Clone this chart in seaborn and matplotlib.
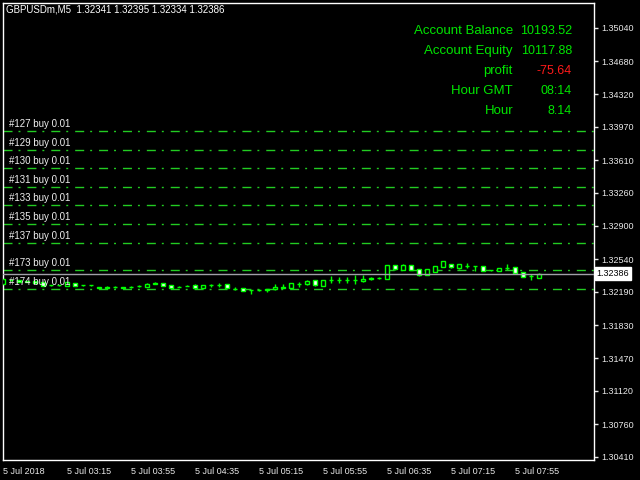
import matplotlib
matplotlib.use("Agg")
import matplotlib.pyplot as plt
import matplotlib.transforms as mtransforms
import pandas as pd
import seaborn as sns

# M5 candles, 5 Jul 2018 02:35 .. 08:10
opens = [1.32274, 1.32317, 1.32318, 1.32296, 1.32305, 1.32291, 1.32258, 1.32262, 1.32256, 1.32281,
         1.32258, 1.32262, 1.32240, 1.32236, 1.32245, 1.32240, 1.32238, 1.32250, 1.32245, 1.32279,
         1.32281, 1.32260, 1.32241, 1.32250, 1.32266, 1.32234, 1.32258, 1.32265, 1.32274, 1.32225,
         1.32230, 1.32207, 1.32205, 1.32214, 1.32216, 1.32238, 1.32234, 1.32276, 1.32270, 1.32317,
         1.32256, 1.32315, 1.32317, 1.32319, 1.32314, 1.32302, 1.32332, 1.32337, 1.32331, 1.32475,
         1.32425, 1.32475, 1.32432, 1.32374, 1.32407, 1.32461, 1.32490, 1.32443, 1.32468, 1.32468,
         1.32468, 1.32422, 1.32418, 1.32445, 1.32454, 1.32400, 1.32360, 1.32341]
highs = [1.32328, 1.32327, 1.32322, 1.32306, 1.32310, 1.32295, 1.32268, 1.32266, 1.32295, 1.32285,
         1.32268, 1.32266, 1.32245, 1.32254, 1.32252, 1.32245, 1.32250, 1.32260, 1.32282, 1.32292,
         1.32288, 1.32263, 1.32256, 1.32258, 1.32270, 1.32266, 1.32277, 1.32285, 1.32278, 1.32243,
         1.32234, 1.32214, 1.32222, 1.32220, 1.32274, 1.32274, 1.32288, 1.32299, 1.32320, 1.32320,
         1.32320, 1.32360, 1.32346, 1.32346, 1.32367, 1.32367, 1.32353, 1.32353, 1.32478, 1.32480,
         1.32485, 1.32480, 1.32436, 1.32440, 1.32472, 1.32526, 1.32494, 1.32490, 1.32497, 1.32472,
         1.32472, 1.32429, 1.32447, 1.32490, 1.32458, 1.32404, 1.32378, 1.32395]
lows = [1.32270, 1.32306, 1.32290, 1.32290, 1.32285, 1.32252, 1.32252, 1.32250, 1.32252, 1.32248,
        1.32254, 1.32252, 1.32225, 1.32218, 1.32236, 1.32230, 1.32232, 1.32245, 1.32243, 1.32272,
        1.32250, 1.32232, 1.32238, 1.32247, 1.32230, 1.32230, 1.32241, 1.32245, 1.32230, 1.32207,
        1.32198, 1.32162, 1.32198, 1.32184, 1.32212, 1.32234, 1.32230, 1.32241, 1.32266, 1.32255,
        1.32252, 1.32281, 1.32288, 1.32288, 1.32270, 1.32298, 1.32313, 1.32324, 1.32328, 1.32428,
        1.32422, 1.32425, 1.32360, 1.32370, 1.32403, 1.32457, 1.32450, 1.32440, 1.32443, 1.32418,
        1.32414, 1.32418, 1.32415, 1.32425, 1.32392, 1.32349, 1.32317, 1.32334]
closes = [1.32324, 1.32320, 1.32295, 1.32302, 1.32288, 1.32256, 1.32263, 1.32258, 1.32291, 1.32252,
          1.32263, 1.32258, 1.32232, 1.32240, 1.32242, 1.32236, 1.32241, 1.32252, 1.32277, 1.32283,
          1.32252, 1.32234, 1.32245, 1.32254, 1.32234, 1.32263, 1.32261, 1.32268, 1.32234, 1.32222,
          1.32202, 1.32211, 1.32211, 1.32216, 1.32241, 1.32236, 1.32285, 1.32272, 1.32310, 1.32259,
          1.32317, 1.32318, 1.32320, 1.32317, 1.32317, 1.32328, 1.32335, 1.32340, 1.32475, 1.32432,
          1.32475, 1.32428, 1.32367, 1.32436, 1.32468, 1.32518, 1.32453, 1.32486, 1.32470, 1.32466,
          1.32418, 1.32425, 1.32443, 1.32447, 1.32396, 1.32353, 1.32357, 1.32386]

# open orders
order_labels = ["#127 buy 0.01", "#129 buy 0.01", "#130 buy 0.01", "#131 buy 0.01", "#133 buy 0.01",
                "#135 buy 0.01", "#137 buy 0.01", "#173 buy 0.01", "#174 buy 0.01"]
order_prices = [1.33925, 1.33720, 1.33522, 1.33324, 1.33126, 1.32921, 1.32720, 1.32422, 1.32220]

bid = 1.32386
price_ticks = [1.35040, 1.34680, 1.34320, 1.33970, 1.33610, 1.33260, 1.32900,
               1.32540, 1.32190, 1.31830, 1.31470, 1.31120, 1.30760, 1.30410]
time_tick_pos = [0, 8, 16, 24, 32, 40, 48, 56, 64]
time_tick_labels = ["5 Jul 2018", "5 Jul 03:15", "5 Jul 03:55", "5 Jul 04:35", "5 Jul 05:15",
                    "5 Jul 05:55", "5 Jul 06:35", "5 Jul 07:15", "5 Jul 07:55"]

info_labels = ["Account Balance", "Account Equity", "profit", "Hour GMT", "Hour"]
info_values = ["10193.52", "10117.88", "-75.64", "08:14", "8.14"]

df = pd.DataFrame({"open": opens, "high": highs, "low": lows, "close": closes})
df["bar"] = range(len(df))
df["bottom"] = df[["open", "close"]].min(axis=1)
df["height"] = (df["close"] - df["open"]).abs()
df["fill"] = ["white" if c < o else "black" for o, c in zip(df["open"], df["close"])]

sns.set_theme(style="dark", rc={"figure.facecolor": "black", "axes.facecolor": "black",
                                "axes.edgecolor": "white", "text.color": "white",
                                "xtick.color": "white", "ytick.color": "white"})
plt.rcParams["font.family"] = ["Liberation Sans", "DejaVu Sans"]

lime = "#00ff00"
fig = plt.figure(figsize=(6.4, 4.8), dpi=100)
ax = fig.add_axes([3 / 640, 20 / 480, 591 / 640, 457 / 480])

# candles
ax.vlines(df["bar"], df["low"], df["high"], color=lime, linewidth=1)
ax.bar(df["bar"], df["height"], bottom=df["bottom"], width=0.5, color=df["fill"],
       edgecolor=lime, linewidth=1, zorder=3)

# order lines
trans = mtransforms.blended_transform_factory(ax.transAxes, ax.transData)
for lbl, p in zip(order_labels, order_prices):
    ax.axhline(p, color="#22cc22", linewidth=1, dashes=(6.5, 4.3, 1.4, 5))
    ax.annotate(lbl, xy=(6 / 591, p), xycoords=trans, xytext=(0, 2), textcoords="offset pixels",
                va="bottom", ha="left", fontsize=7, color="#eeeeee")

ax.axhline(bid, color="#a0a0a8", linewidth=1, zorder=4)
ax.text(1.004, bid, "1.32386", transform=trans, va="center", ha="left", fontsize=6.5,
        color="black", bbox=dict(boxstyle="square,pad=0.2", facecolor="white", edgecolor="white"))

ax.set_xlim(0, 591 / 8)
ax.set_ylim(1.30374, 1.35307)
ax.grid(False)
for s in ax.spines.values():
    s.set_color("white")
    s.set_linewidth(1)

ax.yaxis.tick_right()
ax.set_yticks(price_ticks)
ax.set_yticklabels([f"{t:.5f}" for t in price_ticks])
ax.set_xticks(time_tick_pos)
ax.set_xticklabels(time_tick_labels)
ax.tick_params(axis="both", direction="out", length=3, width=1, labelsize=6.5, pad=2,
               colors="#e8e8e8")
for lbl in ax.get_xticklabels():
    lbl.set_ha("left")

fig.text(6 / 640, 1 - 10 / 480, "GBPUSDm,M5  1.32341 1.32395 1.32334 1.32386",
         fontsize=7, color="white", va="center", ha="left")

rows_y = [31, 51, 71, 91, 111]
for lbl, val, y in zip(info_labels, info_values, rows_y):
    fig.text(513 / 640, 1 - y / 480, lbl, fontsize=9.5, color="#00e600", ha="right", va="center")
    vcol = "#ff1a1a" if val.startswith("-") else "#00e600"
    fig.text(572 / 640, 1 - y / 480, val, fontsize=9, color=vcol, ha="right", va="center")

fig.savefig("out.png", dpi=100, facecolor="black")
